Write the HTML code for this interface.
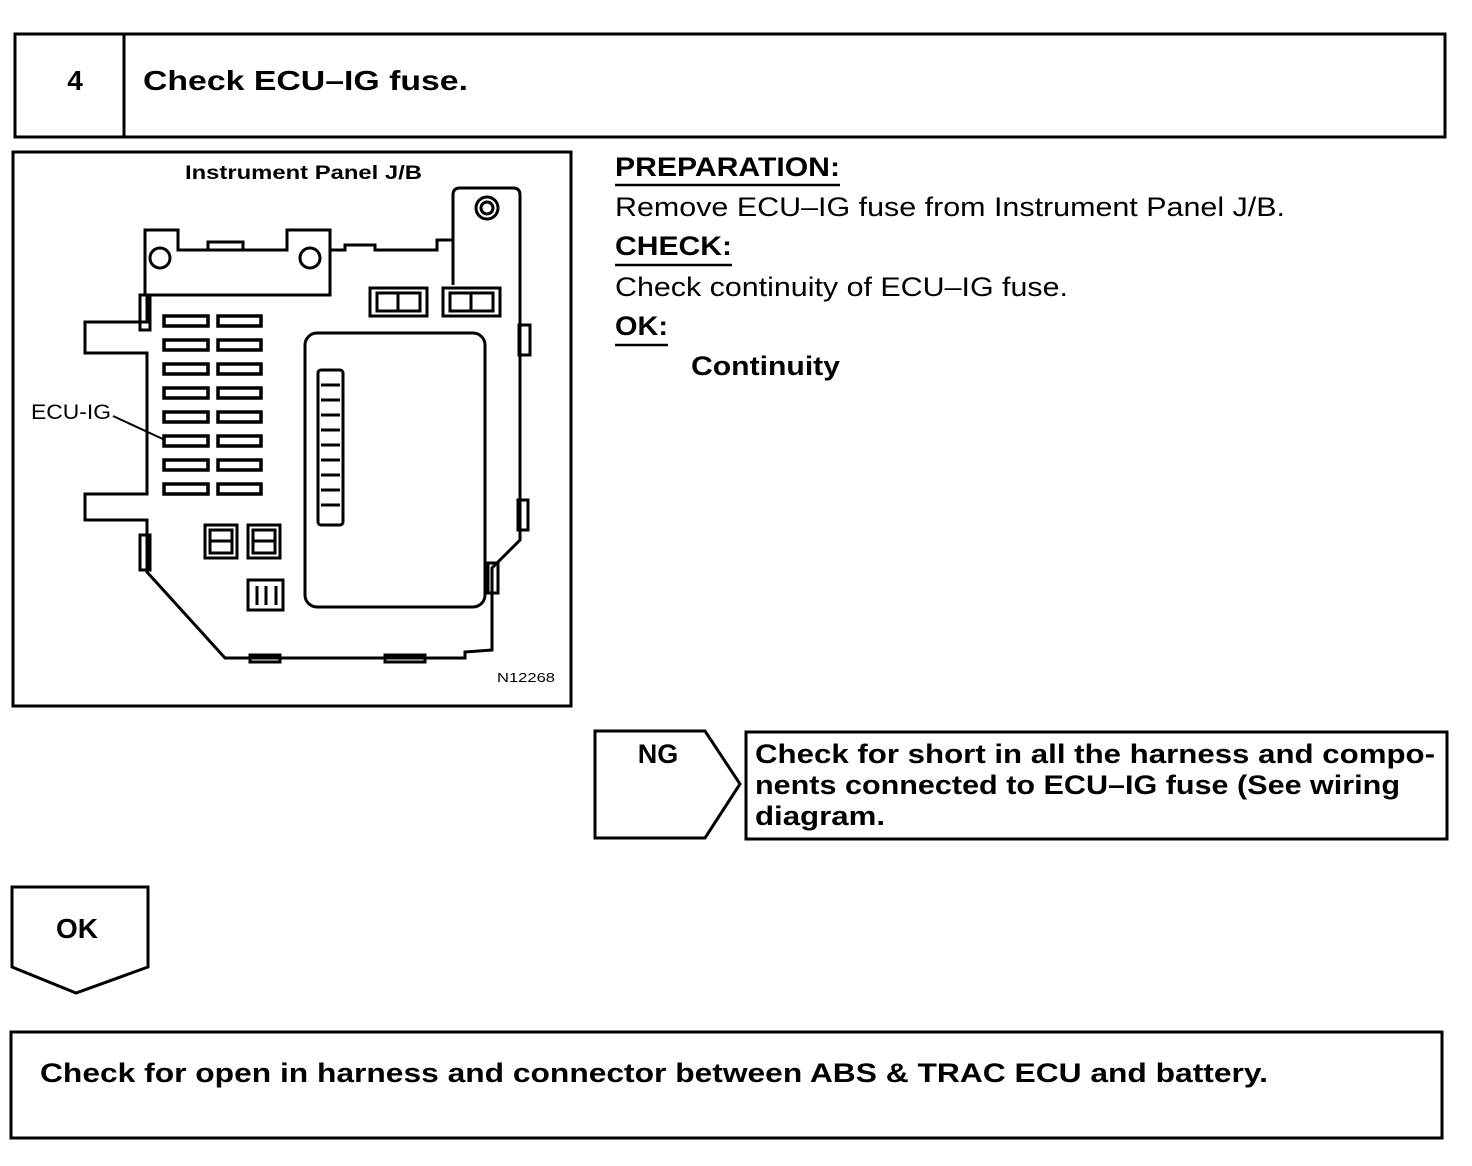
<!DOCTYPE html>
<html><head><style>html,body{margin:0;padding:0;background:#fff}svg{display:block}</style></head>
<body>
<svg width="1472" height="1166" viewBox="0 0 1472 1166" xmlns="http://www.w3.org/2000/svg" font-family="Liberation Sans, Arial, sans-serif">
<g fill="none" stroke="#000" stroke-width="3">
<rect x="15" y="34" width="1430" height="103"/>
<line x1="124" y1="34" x2="124" y2="137"/>
<rect x="13" y="152" width="558" height="554"/>
<path d="M595 731 H705 L740 784 L705 838 H595 Z"/>
<rect x="746" y="732" width="701" height="107"/>
<path d="M12 887 H148 V967 L76 993 L12 967 Z"/>
<rect x="11" y="1032" width="1431" height="106"/>
</g>
<g fill="#000">
<text x="75" y="90" font-size="28" font-weight="bold" text-anchor="middle">4</text>
<text x="143" y="90" font-size="28" font-weight="bold" textLength="325" lengthAdjust="spacingAndGlyphs">Check ECU–IG fuse.</text>
<text x="615" y="176" font-size="27" font-weight="bold" textLength="225" lengthAdjust="spacingAndGlyphs">PREPARATION:</text>
<text x="615" y="216" font-size="27" textLength="670" lengthAdjust="spacingAndGlyphs">Remove ECU–IG fuse from Instrument Panel J/B.</text>
<text x="615" y="255" font-size="27" font-weight="bold" textLength="117" lengthAdjust="spacingAndGlyphs">CHECK:</text>
<text x="615" y="296" font-size="27" textLength="453" lengthAdjust="spacingAndGlyphs">Check continuity of ECU–IG fuse.</text>
<text x="615" y="335" font-size="27" font-weight="bold" textLength="53" lengthAdjust="spacingAndGlyphs">OK:</text>
<text x="691" y="375" font-size="27" font-weight="bold" textLength="149" lengthAdjust="spacingAndGlyphs">Continuity</text>
<text x="658" y="763" font-size="27" font-weight="bold" text-anchor="middle">NG</text>
<text x="755" y="763" font-size="27" font-weight="bold" textLength="680" lengthAdjust="spacingAndGlyphs">Check for short in all the harness and compo-</text>
<text x="755" y="794" font-size="27" font-weight="bold" textLength="645" lengthAdjust="spacingAndGlyphs">nents connected to ECU–IG fuse (See wiring</text>
<text x="755" y="825" font-size="27" font-weight="bold" textLength="130" lengthAdjust="spacingAndGlyphs">diagram.</text>
<text x="77" y="938" font-size="28" font-weight="bold" text-anchor="middle">OK</text>
<text x="40" y="1082" font-size="27" font-weight="bold" textLength="1228" lengthAdjust="spacingAndGlyphs">Check for open in harness and connector between ABS &amp; TRAC ECU and battery.</text>
<text x="185" y="179" font-size="19" font-weight="bold" textLength="237" lengthAdjust="spacingAndGlyphs">Instrument Panel J/B</text>
<text x="31" y="419" font-size="21" textLength="80" lengthAdjust="spacingAndGlyphs">ECU-IG</text>
<text x="497" y="682" font-size="13" textLength="58" lengthAdjust="spacingAndGlyphs">N12268</text>
</g>
<g stroke="#000" stroke-width="2.5">
<line x1="615" y1="185" x2="840" y2="185"/>
<line x1="615" y1="265" x2="732" y2="265"/>
<line x1="615" y1="345" x2="668" y2="345"/>
</g>
<g fill="none" stroke="#000" stroke-width="3">
<path d="M145 230 H178 V250 H287 V230 H330 V295 H145 Z"/>
<rect x="208" y="242" width="35" height="8"/>
<circle cx="160" cy="258" r="10"/><circle cx="310" cy="258" r="10"/>
<path d="M330 250 H345 V245 H375 V250 H437 V240 H453"/>
<path d="M453 285 V195 Q453 188 460 188 H513 Q520 188 520 195 V285"/>
<circle cx="487" cy="208" r="11"/><circle cx="487" cy="208" r="6"/>
<path d="M147 295 V322 H85 V353 H147 V494 H85 V520 H147 V572 L225 658 H465 V652 L492 650 V568 L520 540 V325 L520 285"/>
<rect x="519" y="325" width="11" height="30"/>
<rect x="518" y="500" width="10" height="30"/>
<rect x="488" y="563" width="10" height="30"/>
<rect x="140" y="295" width="10" height="35"/>
<rect x="140" y="535" width="10" height="35"/>
<rect x="250" y="655" width="30" height="7"/>
<rect x="385" y="655" width="40" height="7"/>
<rect x="305" y="333" width="180" height="274" rx="12"/>
<rect x="318" y="370" width="25" height="155" rx="3"/>
<path d="M321 385 H340 M321 400 H340 M321 415 H340 M321 430 H340 M321 445 H340 M321 460 H340 M321 475 H340 M321 490 H340 M321 505 H340"/>
<rect x="370" y="288" width="57" height="28"/><rect x="377" y="293" width="43" height="18"/><line x1="398" y1="293" x2="398" y2="311"/>
<rect x="443" y="288" width="57" height="28"/><rect x="450" y="293" width="43" height="18"/><line x1="471" y1="293" x2="471" y2="311"/>
<rect x="205" y="525" width="32" height="33"/><rect x="210" y="530" width="22" height="23"/><line x1="210" y1="541" x2="232" y2="541"/>
<rect x="248" y="525" width="32" height="33"/><rect x="253" y="530" width="22" height="23"/><line x1="253" y1="541" x2="275" y2="541"/>
<rect x="248" y="580" width="35" height="30"/><line x1="257" y1="586" x2="257" y2="605"/><line x1="266" y1="586" x2="266" y2="605"/><line x1="276" y1="586" x2="276" y2="605"/>
<line x1="113" y1="416" x2="165" y2="440" stroke-width="2"/>
</g>
<g fill="none" stroke="#000" stroke-width="3.5">
<rect x="164" y="316" width="44" height="10"/><rect x="218" y="316" width="43" height="10"/>
<rect x="164" y="340" width="44" height="10"/><rect x="218" y="340" width="43" height="10"/>
<rect x="164" y="364" width="44" height="10"/><rect x="218" y="364" width="43" height="10"/>
<rect x="164" y="388" width="44" height="10"/><rect x="218" y="388" width="43" height="10"/>
<rect x="164" y="412" width="44" height="10"/><rect x="218" y="412" width="43" height="10"/>
<rect x="164" y="436" width="44" height="10"/><rect x="218" y="436" width="43" height="10"/>
<rect x="164" y="460" width="44" height="10"/><rect x="218" y="460" width="43" height="10"/>
<rect x="164" y="484" width="44" height="10"/><rect x="218" y="484" width="43" height="10"/>
</g>
</svg>
</body></html>
